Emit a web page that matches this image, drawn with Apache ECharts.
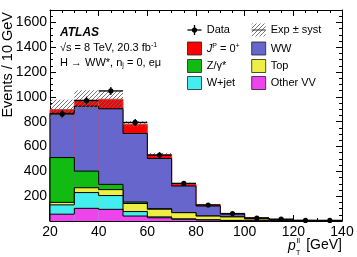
<!DOCTYPE html>
<html><head><meta charset="utf-8">
<script src="https://cdn.jsdelivr.net/npm/echarts@6/dist/echarts.min.js"></script>
<style>html,body{margin:0;padding:0;background:#fff}#c{width:357px;height:257px}</style>
</head><body><div id="c"></div>
<script>
// ---- data ----
const binLow   = [20, 30, 40, 50, 60, 70, 80, 90, 100, 110, 120, 130];
const binWidth = 10;
// stacked backgrounds, bottom to top
const otherVV  = [55, 102, 94, 40, 26, 14, 8, 4, 2, 1, 0.5, 0.5];
const wjet     = [75, 127, 111, 36, 7, 3, 2, 1, 0.5, 0, 0, 0];
const topq     = [20, 39, 48, 65, 62, 50, 30, 28, 14, 5, 2.5, 2];
const zgamma   = [361, 134, 42, 12, 4, 1, 0, 0, 0, 0, 0, 0];
const ww       = [357, 523, 609, 552, 405, 214, 81, 23, 7, 3, 1.5, 1];
const signal   = [30, 48, 77, 75, 30, 16, 10, 4, 1.5, 1, 0.5, 0.5];
const systErr  = [80, 80, 70, 24, 15, 10, 6, 4, 3, 2, 1, 1];
const dataVals = [863, 971, 1048, 794, 531, 303, 129, 60, 24, 15, 5, 5];
const dataErr  = [29, 31, 32, 28, 23, 17, 11, 8, 5, 4, 2, 2];
const xTicks   = [20, 40, 60, 80, 100, 120, 140];
const yTicks   = [200, 400, 600, 800, 1000, 1200, 1400, 1600];

const comps = [
  {name: 'Other VV', vals: otherVV, color: '#ee44ee', line: '#000'},
  {name: 'W+jet', vals: wjet, color: '#44eeee', line: '#000'},
  {name: 'Top', vals: topq, color: '#eeee44', line: '#000'},
  {name: 'Z/γ*', vals: zgamma, color: '#11bb11', line: '#000'},
  {name: 'WW', vals: ww, color: '#6666cc', line: '#000'},
  {name: 'J^P = 0^+', vals: signal, color: '#ff0000', line: '#ff3333'}
];
// cumulative sums
let acc = binLow.map(() => 0);
comps.forEach(c => { acc = acc.map((a, i) => a + c.vals[i]); c.cum = acc.slice(); });
const total = acc;

// hatch pattern
const pc = document.createElement('canvas');
pc.width = 4; pc.height = 4;
const g = pc.getContext('2d');
g.strokeStyle = '#666'; g.lineWidth = 0.9;
g.beginPath(); g.moveTo(-1, 5); g.lineTo(5, -1); g.stroke();
const hatch = {image: pc, repeat: 'repeat'};

const FONT = '"Liberation Sans", Arial, sans-serif';

function histSeries(c, z) {
  const d = binLow.map((lo, i) => [lo, lo + binWidth, c.cum[i], i === 0 ? 0 : c.cum[i - 1]]);
  return {
    type: 'custom', z: z, silent: true, data: d,
    renderItem: (params, api) => {
      const lo = api.value(0), hi = api.value(1), t = api.value(2), p = api.value(3);
      const a = api.coord([lo, 0]), b = api.coord([hi, t]), pp = api.coord([lo, p]);
      return {type: 'group', children: [
        {type: 'rect', shape: {x: a[0], y: b[1], width: b[0] - a[0], height: a[1] - b[1]},
         style: {fill: c.color}},
        {type: 'polyline', shape: {points: [[a[0], pp[1]], [a[0], b[1]], [b[0], b[1]]]},
         style: {stroke: c.line, lineWidth: 1, fill: null}}
      ]};
    }
  };
}

const series = [];
for (let k = comps.length - 1; k >= 0; k--) series.push(histSeries(comps[k], 10 + (comps.length - k)));
// systematic band
series.push({
  type: 'custom', z: 30, silent: true,
  data: binLow.map((lo, i) => [lo, lo + binWidth, total[i] - systErr[i], total[i] + systErr[i]]),
  renderItem: (params, api) => {
    const a = api.coord([api.value(0), api.value(2)]), b = api.coord([api.value(1), api.value(3)]);
    return {type: 'rect', shape: {x: a[0], y: b[1], width: b[0] - a[0], height: a[1] - b[1]},
            style: {fill: hatch}};
  }
});
// data with error bars
series.push({
  type: 'custom', z: 40, silent: true,
  data: binLow.map((lo, i) => [lo, lo + binWidth, dataVals[i], dataErr[i]]),
  renderItem: (params, api) => {
    const lo = api.value(0), hi = api.value(1), v = api.value(2), e = api.value(3);
    const l = api.coord([lo, v]), r = api.coord([hi, v]);
    const up = api.coord([(lo + hi) / 2, v + e]), dn = api.coord([(lo + hi) / 2, v - e]);
    const cx = (l[0] + r[0]) / 2;
    return {type: 'group', children: [
      {type: 'line', shape: {x1: l[0], y1: l[1], x2: r[0], y2: r[1]}, style: {stroke: '#000', lineWidth: 1.3}},
      {type: 'line', shape: {x1: cx, y1: up[1], x2: cx, y2: dn[1]}, style: {stroke: '#000', lineWidth: 1.3}},
      {type: 'circle', shape: {cx: cx, cy: l[1], r: 2.6}, style: {fill: '#000'}}
    ]};
  }
});

const axisCommon = {
  axisLine: {show: true, onZero: false, lineStyle: {color: '#000', width: 1}},
  axisTick: {show: true, inside: true, length: 6, lineStyle: {color: '#000', width: 1}},
  minorTick: {show: true, splitNumber: 4, length: 3, lineStyle: {color: '#000', width: 1}},
  splitLine: {show: false}
};

// legend graphic
const gfx = [];
const col1 = 187.5, col2 = 251.7, rows = [30, 48.5, 66, 83];
const legendItems = [
  {col: col1, row: 1, c: comps[5]}, {col: col2, row: 1, c: comps[4]},
  {col: col1, row: 2, c: comps[3]}, {col: col2, row: 2, c: comps[2]},
  {col: col1, row: 3, c: comps[1]}, {col: col2, row: 3, c: comps[0]}
];
legendItems.forEach(it => {
  const y = rows[it.row];
  gfx.push({type: 'rect', shape: {x: it.col, y: y - 6.5, width: 14, height: 13},
            style: {fill: it.c.color, stroke: '#222', lineWidth: 0.8}});
});
const tStyle = (txt, x, y, extra) => Object.assign({type: 'text', x: x, y: y,
  style: Object.assign({text: txt, font: '11px ' + FONT, fill: '#000', verticalAlign: 'middle', align: 'left'}, extra || {})});
gfx.push(tStyle('Data', 206.7, rows[0]));
gfx.push({type: 'line', shape: {x1: col1, y1: rows[0], x2: col1 + 14, y2: rows[0]}, style: {stroke: '#000', lineWidth: 1.3}});
gfx.push({type: 'line', shape: {x1: col1 + 7, y1: rows[0] - 5, x2: col1 + 7, y2: rows[0] + 5}, style: {stroke: '#000', lineWidth: 1.3}});
gfx.push({type: 'circle', shape: {cx: col1 + 7, cy: rows[0], r: 2.6}, style: {fill: '#000'}});
gfx.push({type: 'rect', shape: {x: col2, y: rows[0] - 6.5, width: 14, height: 13}, style: {fill: hatch}});
gfx.push({type: 'line', shape: {x1: col2, y1: rows[0], x2: col2 + 14, y2: rows[0]}, style: {stroke: '#333', lineWidth: 1}});
gfx.push(tStyle('Exp ± syst', 270.7, rows[0]));
gfx.push({type: 'text', x: 206.7, y: rows[1], style: {
  text: '{i|J}{s|P}{n| = 0}{s|+}', verticalAlign: 'middle', align: 'left',
  rich: {i: {font: 'italic 11px ' + FONT, fill: '#000'}, n: {font: '11px ' + FONT, fill: '#000'},
         s: {font: '7px ' + FONT, fill: '#000', verticalAlign: 'top', padding: [0, 0, 5, 0]}}}});
gfx.push(tStyle('WW', 270.7, rows[1]));
gfx.push(tStyle('Z/γ*', 206.7, rows[2]));
gfx.push(tStyle('Top', 270.7, rows[2]));
gfx.push(tStyle('W+jet', 206.7, rows[3]));
gfx.push(tStyle('Other VV', 270.7, rows[3]));
// ATLAS labels
gfx.push(tStyle('ATLAS', 60, 32.5, {font: 'italic bold 12px ' + FONT}));
gfx.push({type: 'text', x: 60, y: 48, style: {
  text: '{n|√s = 8 TeV, 20.3 fb}{s|-1}', verticalAlign: 'middle', align: 'left',
  rich: {n: {font: '11px ' + FONT, fill: '#000'}, s: {font: '7px ' + FONT, fill: '#000', padding: [0, 0, 6, 0]}}}});
gfx.push({type: 'text', x: 60, y: 62.5, style: {
  text: '{n|H → WW*, n}{s|j}{n| = 0, eμ}', verticalAlign: 'middle', align: 'left',
  rich: {n: {font: '11px ' + FONT, fill: '#000'}, s: {font: '7px ' + FONT, fill: '#000', padding: [6, 0, 0, 0]}}}});
// axis titles
gfx.push({type: 'text', x: 7.5, y: 12, rotation: Math.PI / 2, style: {
  text: 'Events / 10 GeV', font: '14.5px ' + FONT, fill: '#000', align: 'right', verticalAlign: 'middle'}});
gfx.push({type: 'text', x: 342, y: 245.5, style: {text: '[GeV]', font: '14px ' + FONT, fill: '#000', align: 'right', verticalAlign: 'middle'}});
gfx.push({type: 'text', x: 288, y: 246.5, style: {text: 'p', font: 'italic 14px ' + FONT, fill: '#000', align: 'left', verticalAlign: 'middle'}});
gfx.push({type: 'text', x: 296.5, y: 240.5, style: {text: 'll', font: '8px ' + FONT, fill: '#000', align: 'left', verticalAlign: 'middle'}});
gfx.push({type: 'text', x: 296, y: 253, style: {text: 'T', font: '7px ' + FONT, fill: '#000', align: 'left', verticalAlign: 'middle'}});

const chart = echarts.init(document.getElementById('c'), null, {renderer: 'canvas'});
chart.setOption({
  animation: false,
  backgroundColor: '#fff',
  grid: {left: 50, right: 15, top: 10, bottom: 36},
  xAxis: [
    Object.assign({type: 'value', min: 20, max: 140, interval: 20, position: 'bottom',
      axisLabel: {show: true, margin: 4, fontSize: 14, fontFamily: FONT, color: '#000',
        formatter: v => xTicks.includes(v) ? String(v) : ''}}, axisCommon),
    Object.assign({type: 'value', min: 20, max: 140, interval: 20, position: 'top',
      axisLabel: {show: false}}, axisCommon)
  ],
  yAxis: [
    Object.assign({type: 'value', min: 0, max: 1700, interval: 200, position: 'left',
      axisLabel: {show: true, margin: 3, fontSize: 14, fontFamily: FONT, color: '#000',
        showMaxLabel: false, formatter: v => yTicks.includes(v) ? String(v) : ''}}, axisCommon),
    Object.assign({type: 'value', min: 0, max: 1700, interval: 200, position: 'right',
      axisLabel: {show: false}}, axisCommon)
  ],
  series: series,
  graphic: gfx
});
</script></body></html>
